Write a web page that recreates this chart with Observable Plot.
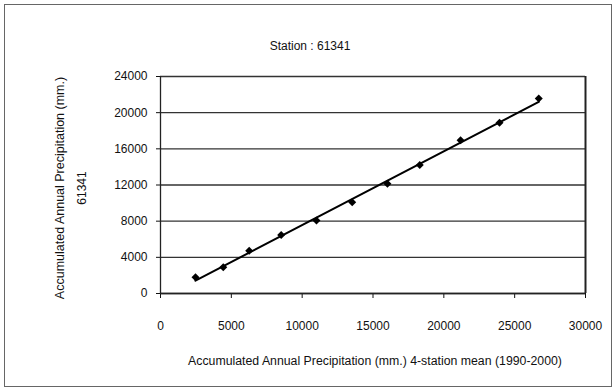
<!DOCTYPE html>
<html>
<head>
<meta charset="utf-8">
<script src="https://cdn.jsdelivr.net/npm/d3@7"></script>
<script src="https://cdn.jsdelivr.net/npm/@observablehq/plot@0.6"></script>
<style>
  html, body { margin: 0; padding: 0; background: #fff; }
  #wrap { position: relative; width: 613px; height: 389px; overflow: hidden; }
  #border { position: absolute; left: 4px; top: 4px; width: 606px; height: 381px; border: 1px solid #666; pointer-events: none; }
</style>
</head>
<body>
<div id="wrap"><div id="border"></div></div>
<script>
// Data (11 years, 1990-2000)
const meanAccum = [2470, 4430, 6260, 8520, 11010, 13530, 16020, 18300, 21180, 23930, 26700];
const stationAccum = [1800, 2900, 4720, 6480, 8080, 10100, 12150, 14210, 16940, 18880, 21560];
const xTicks = [0, 5000, 10000, 15000, 20000, 25000, 30000];
const yTicks = [0, 4000, 8000, 12000, 16000, 20000, 24000];
const titleText = "Station : 61341";
const yTitle = "Accumulated Annual Precipitation (mm.)";
const yTitle2 = "61341";
const xTitle = "Accumulated Annual Precipitation (mm.) 4-station mean (1990-2000)";

const data = meanAccum.map((x, i) => ({x, y: stationAccum[i]}));
const fmt = d => String(d);

const chart = Plot.plot({
  width: 613,
  height: 389,
  marginLeft: 160,
  marginRight: 28,
  marginTop: 76,
  marginBottom: 96,
  style: {fontFamily: "'Liberation Sans', Arial, sans-serif", fontSize: "12px", color: "#111", background: "transparent"},
  x: {domain: [0, 30000]},
  y: {domain: [0, 24000]},
  marks: [
    Plot.gridY(yTicks, {stroke: "#333", strokeOpacity: 1, strokeWidth: 1.4}),
    Plot.axisY(yTicks, {tickSize: 4, tickPadding: 9, tickFormat: fmt, label: null, fontSize: 12}),
    Plot.axisX(xTicks, {tickSize: 5, tickPadding: 23, tickFormat: fmt, label: null, fontSize: 12}),
    Plot.ruleX([0], {stroke: "#222", strokeWidth: 1.3}),
    Plot.ruleX([30000], {stroke: "#222", strokeWidth: 2}),
    Plot.ruleY([0], {stroke: "#222", strokeWidth: 1.3}),
    Plot.linearRegressionY(data, {x: "x", y: "y", ci: 0, stroke: "#000", strokeWidth: 2}),
    Plot.dot(data, {x: "x", y: "y", symbol: "diamond2", r: 3.6, fill: "#000", stroke: "none"}),
    Plot.text([titleText], {text: d => d, frameAnchor: "top", textAnchor: "middle", lineAnchor: "middle", dx: -63, dy: -30, fontSize: 12, fill: "#111"}),
    Plot.text([yTitle], {text: d => d, frameAnchor: "left", textAnchor: "middle", lineAnchor: "middle", rotate: -90, dx: -101, dy: 3, fontSize: 12.5, fill: "#111"}),
    Plot.text([yTitle2], {text: d => d, frameAnchor: "left", textAnchor: "middle", lineAnchor: "middle", rotate: -90, dx: -78, dy: 3, fontSize: 12, fill: "#111"}),
    Plot.text([xTitle], {text: d => d, frameAnchor: "bottom", textAnchor: "middle", lineAnchor: "middle", dx: 2, dy: 68, fontSize: 12.3, fill: "#111"})
  ]
});
document.getElementById("wrap").prepend(chart);
</script>
</body>
</html>
